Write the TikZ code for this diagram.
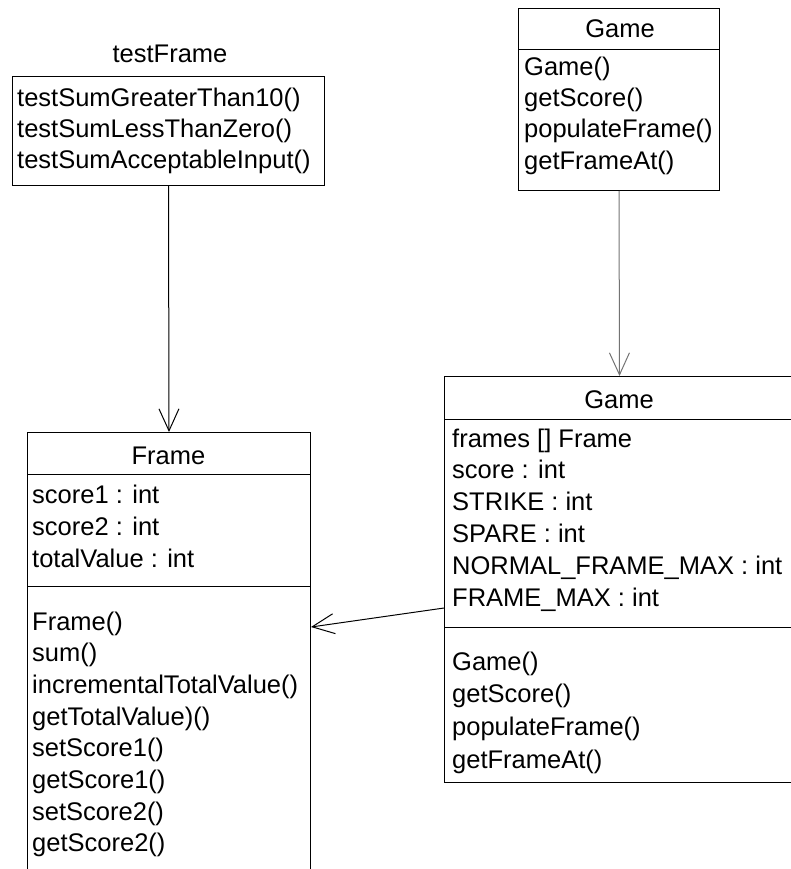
\documentclass[tikz,border=0pt]{standalone}
\usepackage{fontspec}
\setmainfont{Liberation Sans}
\usetikzlibrary{arrows.meta}

\tikzset{
  umlbox/.style={draw=black, line width=1pt, inner sep=0pt, anchor=north west},
  rowtext/.style={inner sep=0pt, anchor=base west, font=\fontsize{25.5}{30}\selectfont},
  titletext/.style={inner sep=0pt, anchor=base, font=\fontsize{25.5}{30}\selectfont},
  conn/.style={line width=1pt, -{Straight Barb[length=22pt, width=20pt, line width=1pt]}},
}

% rows of a class compartment: name prefix, x, first baseline, line spacing, entries
\newcommand{\classrows}[5]{%
  \foreach \t [count=\i] in {#5}
    \node[rowtext] (#1-\i) at ({#2},{#3+(\i-1)*#4}) {\t};%
}

\begin{document}
\begin{tikzpicture}[x=1pt, y=-1pt]
\useasboundingbox (0,0) rectangle (791,869);
\clip (0,0) rectangle (791,869);

% testFrame
\node[titletext] (tf-title) at (170,63) {testFrame};
\node[umlbox, minimum width=312pt, minimum height=109pt] (tf) at (12,76) {};
\classrows{tfm}{17}{107}{30.5}{testSumGreaterThan10(), testSumLessThanZero(), testSumAcceptableInput()}

% Game (operations only)
\node[umlbox, minimum width=201pt, minimum height=182pt] (gt) at (518,8) {};
\draw[line width=1pt] ([yshift=-42pt]gt.north west) -- ([yshift=-42pt]gt.north east);
\node[titletext] (gt-title) at (620,38) {Game};
\classrows{gtm}{524}{76}{31}{Game(), getScore(), populateFrame(), getFrameAt()}

% Frame
\node[umlbox, minimum width=283pt, minimum height=460pt] (frame) at (27,432) {};
\draw[line width=1pt] ([yshift=-42pt]frame.north west) -- ([yshift=-42pt]frame.north east);
\draw[line width=1pt] ([yshift=-154pt]frame.north west) -- ([yshift=-154pt]frame.north east);
\node[titletext] (frame-title) at (168.5,464) {Frame};
\classrows{fra}{32}{503}{32}{score1 : int, score2 : int, totalValue : int}
\classrows{frm}{32}{630}{31.7}{Frame(), sum(), incrementalTotalValue(), getTotalValue)(), setScore1(), getScore1(), setScore2(), getScore2()}

% Game (full)
\node[umlbox, minimum width=350pt, minimum height=406pt] (gb) at (444,376) {};
\draw[line width=1pt] ([yshift=-43pt]gb.north west) -- ([yshift=-43pt]gb.north east);
\draw[line width=1pt] ([yshift=-251pt]gb.north west) -- ([yshift=-251pt]gb.north east);
\node[titletext] (gb-title) at (619,408) {Game};
\classrows{gba}{452}{447}{31.8}{{frames [] Frame}, score : int, STRIKE : int, SPARE : int, NORMAL\_FRAME\_MAX : int, FRAME\_MAX : int}
\classrows{gbm}{452}{670}{32.7}{Game(), getScore(), populateFrame(), getFrameAt()}

% associations
\draw[conn] (tf.south) -- (frame.north);
\draw[conn, draw=black!55] (gt.south) -- (gb.north);
\draw[conn] ([yshift=-232pt]gb.north west) -- ([yshift=-195pt]frame.north east);

\end{tikzpicture}
\end{document}
